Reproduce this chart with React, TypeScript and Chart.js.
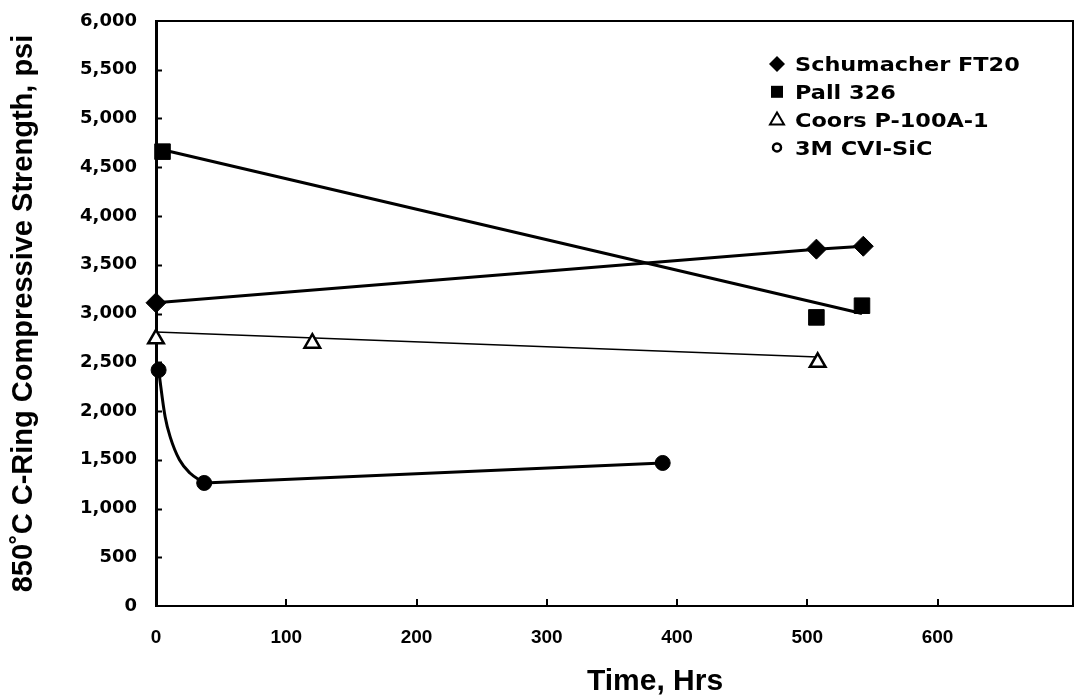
import React, { useEffect, useRef } from 'react';
import { Chart, registerables } from 'chart.js';

Chart.register(...registerables);

// ---- data ----
const schumacherHours = [0, 507, 543];
const schumacherPsi = [3110, 3660, 3690];

const pallHours = [5, 507, 542];
const pallPsi = [4660, 2960, 3080];
const pallTrendHours = [5, 542];
const pallTrendPsi = [4680, 3000];

const coorsHours = [0, 120, 508];
const coorsPsi = [2740, 2695, 2500];
const coorsTrendHours = [0, 508];
const coorsTrendPsi = [2810, 2555];

const cviHours = [2, 37, 389];
const cviPsi = [2420, 1262, 1467];
const cviCurveHours = [2, 7, 11, 18, 26, 37];
const cviCurvePsi = [2420, 1940, 1730, 1500, 1364, 1262];

const legendLabels = ['Schumacher FT20', 'Pall 326', 'Coors P-100A-1', '3M CVI-SiC'];
const legendMarkers = ['diamond', 'square', 'triangle', 'ring'];

const xTickValues = [0, 100, 200, 300, 400, 500, 600];
const xMin = 0;
const xMax = 704;
const yMin = 0;
const yMax = 6000;
const yStep = 500;

const xTitle = 'Time, Hrs';
const yTitle = '850˚C C-Ring Compressive Strength, psi';

const zip = (xs: number[], ys: number[]) => xs.map((x, i) => ({ x, y: ys[i] }));

const framePlugin = {
  id: 'frameAndLegend',
  afterDraw(chart: any) {
    const { ctx, chartArea } = chart;
    const xs = chart.scales.x;
    const ys = chart.scales.y;
    ctx.save();
    ctx.strokeStyle = '#000';
    // top and right frame
    ctx.lineWidth = 2;
    ctx.beginPath();
    ctx.moveTo(chartArea.left, chartArea.top);
    ctx.lineTo(chartArea.right, chartArea.top);
    ctx.lineTo(chartArea.right, chartArea.bottom);
    ctx.stroke();
    // inward tick marks
    ctx.lineWidth = 2;
    for (let v = yMin + yStep; v < yMax; v += yStep) {
      const py = Math.round(ys.getPixelForValue(v)) + 0.5;
      ctx.beginPath();
      ctx.moveTo(chartArea.left, py);
      ctx.lineTo(chartArea.left + 6, py);
      ctx.stroke();
    }
    xTickValues.slice(1).forEach((v) => {
      const px = Math.round(xs.getPixelForValue(v));
      ctx.beginPath();
      ctx.moveTo(px, chartArea.bottom);
      ctx.lineTo(px, chartArea.bottom - 7);
      ctx.stroke();
    });
    // x axis title (offset right as in the reference)
    ctx.fillStyle = '#000';
    ctx.font = 'bold 30px "Liberation Sans", Arial';
    ctx.textAlign = 'center';
    ctx.textBaseline = 'alphabetic';
    ctx.fillText(xTitle, chartArea.left + 499, chartArea.bottom + 84);
    // legend
    const mx = chartArea.right - 296;
    const tx = chartArea.right - 278;
    const rowTop = chartArea.top + 43;
    const rowGap = 27.8;
    ctx.font = 'bold 20px "DejaVu Sans"';
    ctx.textAlign = 'left';
    legendLabels.forEach((label, i) => {
      const cy = rowTop + i * rowGap;
      ctx.fillStyle = '#000';
      ctx.strokeStyle = '#000';
      const m = legendMarkers[i];
      ctx.beginPath();
      if (m === 'diamond') {
        ctx.moveTo(mx, cy - 8);
        ctx.lineTo(mx + 8, cy);
        ctx.lineTo(mx, cy + 8);
        ctx.lineTo(mx - 8, cy);
        ctx.closePath();
        ctx.fill();
      } else if (m === 'square') {
        ctx.rect(mx - 6, cy - 6, 12, 12);
        ctx.fill();
      } else if (m === 'triangle') {
        ctx.lineWidth = 2;
        ctx.moveTo(mx, cy - 7);
        ctx.lineTo(mx + 7, cy + 5);
        ctx.lineTo(mx - 7, cy + 5);
        ctx.closePath();
        ctx.fillStyle = '#fff';
        ctx.fill();
        ctx.stroke();
      } else {
        ctx.lineWidth = 2.5;
        ctx.arc(mx, cy, 4, 0, Math.PI * 2);
        ctx.stroke();
      }
      ctx.fillStyle = '#000';
      ctx.save();
      ctx.translate(tx, cy + 7.3);
      ctx.scale(1.12, 1);
      ctx.fillText(label, 0, 0);
      ctx.restore();
    });
    ctx.restore();
  },
};

export default function App() {
  const canvasRef = useRef<HTMLCanvasElement | null>(null);

  useEffect(() => {
    document.body.style.margin = '0';
    const canvas = canvasRef.current;
    if (!canvas) return;
    const black = '#000';
    const chart = new Chart(canvas, {
      type: 'line',
      data: {
        datasets: [
          {
            label: legendLabels[0],
            data: zip(schumacherHours, schumacherPsi),
            borderColor: black,
            backgroundColor: black,
            borderWidth: 3,
            pointStyle: 'rectRot',
            pointRadius: 10,
            pointBorderWidth: 1,
            showLine: true,
            tension: 0,
            clip: false,
          },
          {
            label: legendLabels[1],
            data: zip(pallHours, pallPsi),
            borderColor: black,
            backgroundColor: black,
            pointStyle: 'rect',
            pointRadius: 11,
            pointBorderWidth: 1,
            showLine: false,
            clip: false,
          },
          {
            label: legendLabels[2],
            data: zip(coorsHours, coorsPsi),
            borderColor: black,
            backgroundColor: '#fff',
            pointStyle: 'triangle',
            pointRadius: 9,
            pointBorderWidth: 2.5,
            showLine: false,
            clip: false,
          },
          {
            label: legendLabels[3],
            data: zip(cviHours, cviPsi),
            borderColor: black,
            backgroundColor: black,
            borderWidth: 3,
            pointStyle: 'circle',
            pointRadius: 7.5,
            pointBorderWidth: 1,
            showLine: false,
            clip: false,
          },
          {
            label: '3M CVI-SiC decay',
            data: zip(cviCurveHours, cviCurvePsi),
            borderColor: black,
            borderWidth: 3,
            pointRadius: 0,
            cubicInterpolationMode: 'monotone',
            showLine: true,
            clip: false,
          },
          {
            label: '3M CVI-SiC later',
            data: zip(cviHours.slice(1), cviPsi.slice(1)),
            borderColor: black,
            borderWidth: 3,
            pointRadius: 0,
            showLine: true,
            clip: false,
          },
          {
            label: 'Pall 326 trend',
            data: zip(pallTrendHours, pallTrendPsi),
            borderColor: black,
            borderWidth: 3,
            pointRadius: 0,
            showLine: true,
            clip: false,
          },
          {
            label: 'Coors P-100A-1 trend',
            data: zip(coorsTrendHours, coorsTrendPsi),
            borderColor: black,
            borderWidth: 1.5,
            pointRadius: 0,
            showLine: true,
            clip: false,
          },
        ] as any,
      },
      options: {
        responsive: false,
        animation: false,
        devicePixelRatio: 1,
        layout: { autoPadding: false, padding: { top: 21, right: 5, left: 0, bottom: 0 } },
        plugins: {
          legend: { display: false },
          tooltip: { enabled: false },
        },
        events: [],
        scales: {
          x: {
            type: 'linear',
            min: xMin,
            max: xMax,
            afterBuildTicks: (scale: any) => {
              scale.ticks = xTickValues.map((value) => ({ value }));
            },
            afterFit: (scale: any) => {
              scale.height = 92;
            },
            ticks: {
              color: '#000',
              padding: 0,
              maxRotation: 0,
              autoSkip: false,
              font: { family: '"Liberation Sans", Arial', size: 19, weight: 'bold' },
            },
            grid: {
              display: true,
              drawOnChartArea: false,
              drawTicks: true,
              tickLength: 20,
              tickColor: 'rgba(0,0,0,0)',
            },
            border: { display: true, color: '#000', width: 2 },
            title: { display: false, text: xTitle },
          },
          y: {
            type: 'linear',
            min: yMin,
            max: yMax,
            afterFit: (scale: any) => {
              scale.width = 156;
            },
            ticks: {
              stepSize: yStep,
              color: '#000',
              padding: 0,
              callback: (v: any) => Number(v).toLocaleString('en-US'),
              font: { family: '"DejaVu Sans"', size: 18, weight: 'bold' },
            },
            grid: {
              display: true,
              drawOnChartArea: false,
              drawTicks: true,
              tickLength: 19,
              tickColor: 'rgba(0,0,0,0)',
            },
            border: { display: true, color: '#000', width: 3 },
            title: {
              display: true,
              text: yTitle,
              color: '#000',
              padding: { top: 7, bottom: 0 },
              font: { family: '"Liberation Sans", Arial', size: 29, weight: 'bold' },
            },
          },
        },
      } as any,
      plugins: [framePlugin],
    });
    return () => chart.destroy();
  }, []);

  return (
    <div style={{ width: 1078, height: 698, background: '#fff' }}>
      <canvas ref={canvasRef} width={1078} height={698} style={{ display: 'block' }} />
    </div>
  );
}
